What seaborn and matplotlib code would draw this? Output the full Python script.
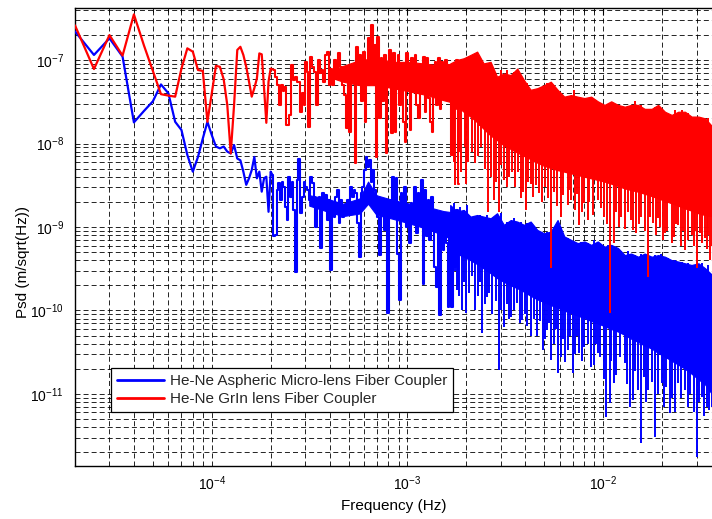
import numpy as np
import pandas as pd
import matplotlib
matplotlib.use("Agg")
import matplotlib.pyplot as plt
import seaborn as sns
from matplotlib.ticker import FixedLocator, NullFormatter, LogFormatterSciNotation

# ---------------- data ----------------
# low-frequency bins, resolvable one by one (Hz)
low_freq = [2.0e-5, 2.5e-5, 3.0e-5, 3.5e-5, 4.0e-5, 4.5e-5, 5.0e-5, 5.5e-5, 6.0e-5, 6.5e-5,
            7.0e-5, 7.5e-5, 8.0e-5, 8.5e-5, 9.0e-5, 9.5e-5, 1.0e-4, 1.05e-4, 1.1e-4, 1.15e-4,
            1.2e-4, 1.25e-4, 1.3e-4, 1.35e-4, 1.4e-4, 1.45e-4, 1.5e-4, 1.55e-4, 1.6e-4, 1.65e-4,
            1.7e-4, 1.75e-4, 1.8e-4, 1.85e-4, 1.9e-4, 1.95e-4, 2.0e-4]

blue_low_psd = [2.2e-7, 1.15e-7, 1.82e-7, 1.10e-7, 1.79e-8, 2.45e-8, 3.2e-8, 5.1e-8, 4.0e-8, 1.82e-8,
                1.45e-8, 7.3e-9, 4.6e-9, 6.9e-9, 1.15e-8, 1.82e-8, 1.26e-8, 9.2e-9, 8.75e-9, 9.2e-9,
                8.0e-9, 7.6e-9, 9.6e-9, 6.6e-9, 6.3e-9, 4.6e-9, 3.2e-9, 3.83e-9, 4.8e-9, 6.9e-9,
                3.83e-9, 4.6e-9, 2.65e-9, 3.83e-9, 4.0e-9, 1.52e-9, 4.6e-9]

red_low_psd = [2.6e-7, 7.8e-8, 1.99e-7, 1.13e-7, 3.52e-7, 1.5e-7, 7.4e-8, 3.9e-8, 3.75e-8, 3.64e-8,
               7.9e-8, 1.38e-7, 1.26e-7, 7.6e-8, 7.4e-8, 1.82e-8, 4.0e-8, 8.5e-8, 8.3e-8, 5.9e-8,
               2.9e-8, 7.6e-9, 2.9e-8, 1.32e-7, 1.44e-7, 1.15e-7, 8.3e-8, 5.5e-8, 3.64e-8, 4.6e-8,
               6.0e-8, 1.2e-7, 1.17e-7, 4.6e-8, 1.77e-8, 5.5e-8, 7.9e-8]

# mid range: peaks and troughs of the blue trace
blue_mid_freq = [2.042e-4, 2.083e-4, 2.124e-4, 2.167e-4, 2.210e-4, 2.254e-4, 2.299e-4, 2.345e-4, 2.392e-4, 2.440e-4,
                 2.488e-4, 2.538e-4, 2.588e-4, 2.640e-4, 2.693e-4, 2.746e-4, 2.801e-4, 2.857e-4, 2.914e-4, 2.972e-4,
                 3.032e-4, 3.092e-4, 3.154e-4, 3.217e-4, 3.281e-4, 3.346e-4, 3.413e-4, 3.481e-4, 3.551e-4, 3.621e-4,
                 3.693e-4, 3.767e-4, 3.842e-4, 3.919e-4, 3.997e-4, 4.077e-4, 4.158e-4, 4.241e-4, 4.325e-4, 4.412e-4,
                 4.500e-4, 4.589e-4, 4.681e-4, 4.774e-4, 4.869e-4, 4.966e-4, 5.065e-4, 5.166e-4, 5.269e-4, 5.370e-4,
                 5.479e-4, 5.588e-4, 5.699e-4, 5.813e-4, 5.929e-4, 6.047e-4, 6.166e-4, 6.289e-4, 6.414e-4, 6.542e-4,
                 6.673e-4, 6.805e-4, 6.941e-4, 7.079e-4, 7.220e-4, 7.364e-4, 7.511e-4, 7.660e-4, 7.813e-4, 7.969e-4,
                 8.128e-4, 8.289e-4, 8.455e-4, 8.623e-4, 8.795e-4, 8.970e-4, 9.149e-4, 9.331e-4, 9.517e-4, 9.707e-4,
                 9.900e-4, 1.010e-3, 1.030e-3, 1.050e-3, 1.071e-3, 1.093e-3, 1.114e-3, 1.137e-3, 1.159e-3, 1.183e-3,
                 1.206e-3, 1.230e-3, 1.255e-3, 1.279e-3, 1.305e-3, 1.331e-3, 1.358e-3, 1.385e-3, 1.412e-3, 1.440e-3,
                 1.469e-3, 1.498e-3, 1.528e-3, 1.559e-3, 1.590e-3, 1.622e-3, 1.654e-3, 1.687e-3, 1.720e-3, 1.754e-3,
                 1.789e-3, 1.825e-3]
blue_mid_psd = [4.2e-9, 7.7e-10, 8.0e-10, 2.77e-9, 3.33e-9, 2.1e-9, 3.5e-9, 3.04e-9, 1.75e-9, 1.21e-9,
                4.0e-9, 2.31e-9, 3.5e-9, 1.6e-9, 2.9e-10, 3.66e-9, 6.6e-9, 1.46e-9, 2.31e-9, 3.5e-9,
                3.04e-9, 2.77e-9, 2.1e-9, 4.0e-9, 3.33e-9, 2.31e-9, 1.01e-9, 2.1e-9, 2.31e-9, 5.6e-10,
                2.53e-9, 1.92e-9, 2.42e-9, 1.21e-9, 2.1e-9, 3.05e-10, 1.92e-9, 1.33e-9, 2.31e-9, 2.77e-9,
                1.11e-9, 2.1e-9, 1.33e-9, 1.6e-9, 1.75e-9, 2.1e-9, 1.75e-9, 3.04e-9, 2.31e-9, 2.77e-9,
                2.53e-9, 1.11e-9, 4.4e-10, 2.53e-9, 3.04e-9, 4.8e-9, 6.95e-9, 5.3e-9, 6.3e-9, 3.5e-9,
                4.8e-9, 2.77e-9, 2.1e-9, 1.33e-9, 4.6e-10, 1.46e-9, 2.1e-9, 9.2e-10, 1.33e-9, 9.2e-11,
                1.46e-9, 2.1e-9, 4.0e-9, 2.1e-9, 3.83e-9, 4.8e-10, 1.34e-10, 2.53e-9, 1.33e-9, 3.04e-9,
                1.01e-9, 1.6e-9, 6.4e-10, 1.92e-9, 1.33e-9, 3.04e-9, 8.4e-10, 2.53e-9, 1.11e-9, 3.66e-9,
                2.1e-10, 2.77e-9, 7.7e-10, 2.1e-9, 7.0e-10, 2.31e-9, 1.01e-9, 3.35e-10, 1.93e-10, 1.11e-9,
                8.8e-11, 8.4e-10, 5.3e-10, 1.33e-9, 6.4e-10, 1.11e-10, 1.11e-9, 1.11e-10, 1.33e-9, 3.35e-10,
                1.6e-9, 2.1e-10]

# mid range: peaks and troughs of the red trace
red_mid_freq = [2.08e-4, 2.12e-4, 2.17e-4, 2.23e-4, 2.28e-4, 2.32e-4, 2.37e-4, 2.44e-4, 2.51e-4, 2.57e-4,
                2.64e-4, 2.69e-4, 2.78e-4, 2.86e-4, 2.91e-4, 2.98e-4, 3.03e-4, 3.09e-4, 3.15e-4, 3.21e-4,
                3.30e-4, 3.39e-4, 3.44e-4, 3.52e-4, 3.59e-4, 3.66e-4, 3.73e-4, 3.81e-4, 3.92e-4, 4.00e-4,
                4.07e-4, 4.16e-4, 4.26e-4, 4.36e-4, 4.46e-4, 4.57e-4, 4.68e-4, 4.78e-4, 4.91e-4, 4.98e-4,
                5.10e-4, 5.22e-4, 5.33e-4, 5.41e-4, 5.52e-4, 5.63e-4, 5.74e-4, 5.86e-4, 5.97e-4, 6.12e-4,
                6.21e-4, 6.34e-4, 6.47e-4, 6.57e-4, 6.70e-4, 6.84e-4, 6.94e-4, 7.08e-4, 7.22e-4, 7.36e-4,
                7.51e-4, 7.66e-4, 7.81e-4, 8.00e-4, 8.16e-4, 8.32e-4, 8.53e-4, 8.65e-4, 8.83e-4, 9.01e-4,
                9.19e-4, 9.40e-4, 9.59e-4, 9.75e-4, 9.94e-4, 1.014e-3, 1.035e-3, 1.056e-3, 1.08e-3, 1.10e-3,
                1.12e-3, 1.15e-3, 1.17e-3, 1.19e-3, 1.22e-3, 1.24e-3, 1.26e-3, 1.29e-3, 1.32e-3, 1.34e-3,
                1.36e-3, 1.39e-3, 1.42e-3, 1.45e-3, 1.48e-3, 1.50e-3, 1.53e-3, 1.57e-3, 1.60e-3, 1.63e-3,
                1.66e-3, 1.69e-3, 1.73e-3, 1.76e-3, 1.80e-3, 1.83e-3]
red_mid_psd = [7.6e-8, 6.3e-8, 5.0e-8, 2.9e-8, 5.0e-8, 4.2e-8, 4.8e-8, 1.67e-8, 2.2e-8, 8.7e-8,
               5.75e-8, 6.3e-8, 5.5e-8, 2.4e-8, 4.0e-8, 2.9e-8, 9.5e-8, 7.2e-8, 1.59e-8, 1.10e-7,
               8.3e-8, 7.2e-8, 2.9e-8, 1.0e-7, 6.9e-8, 7.6e-8, 5.5e-8, 1.15e-7, 1.26e-7, 5.0e-8,
               7.9e-8, 5.0e-8, 1.0e-7, 7.2e-8, 1.2e-7, 8.3e-8, 5.0e-8, 3.8e-8, 1.52e-8, 7.2e-8,
               1.39e-8, 5.5e-8, 8.7e-8, 5.8e-9, 1.44e-7, 5.75e-8, 1.15e-7, 3.2e-8, 1.26e-7, 1.82e-8,
               9.5e-8, 1.82e-7, 7.2e-8, 2.62e-7, 6.6e-8, 1.51e-7, 6.9e-9, 1.90e-7, 2.0e-8, 1.05e-7,
               3.2e-8, 1.15e-7, 7.6e-9, 7.2e-8, 1.32e-7, 1.32e-8, 1.2e-7, 1.39e-8, 7.2e-8, 1.15e-7,
               2.9e-8, 4.6e-8, 1.82e-8, 1.05e-8, 1.2e-7, 6.6e-8, 1.45e-8, 1.05e-7, 6.0e-8, 1.15e-7,
               2.9e-8, 2.0e-8, 7.2e-8, 4.0e-8, 1.10e-7, 2.4e-8, 1.05e-7, 3.5e-8, 1.82e-8, 1.39e-8,
               7.2e-8, 9.5e-8, 2.9e-8, 1.05e-7, 2.6e-8, 9.5e-8, 4.4e-8, 1.0e-7, 6.3e-8, 8.7e-8,
               3.8e-8, 7.3e-9, 7.2e-8, 2.6e-8, 1.0e-7, 3.3e-9]

# mid range: solidly filled part of each trace (top edge, bottom edge)
red_mid_band_freq = [4.2e-4, 4.68e-4, 5.70e-4, 6.94e-4, 8.45e-4, 1.03e-3, 1.255e-3, 1.528e-3, 1.70e-3]
red_mid_band_top = [7.5e-8, 8.5e-8, 1.0e-7, 1.05e-7, 9.5e-8, 9.5e-8, 9.0e-8, 8.5e-8, 8.5e-8]
red_mid_band_core = [6.0e-8, 5.5e-8, 5.0e-8, 5.0e-8, 4.6e-8, 4.2e-8, 3.8e-8, 3.3e-8, 3.1e-8]
blue_mid_band_freq = [3.15e-4, 3.84e-4, 4.68e-4, 5.70e-4, 6.29e-4, 6.94e-4, 8.45e-4, 1.03e-3, 1.255e-3,
                      1.528e-3, 1.70e-3]
blue_mid_band_top = [2.4e-9, 2.2e-9, 1.9e-9, 2.2e-9, 3.5e-9, 2.4e-9, 2.1e-9, 1.9e-9, 1.75e-9, 1.55e-9, 1.5e-9]
blue_mid_band_core = [1.8e-9, 1.55e-9, 1.35e-9, 1.45e-9, 1.9e-9, 1.4e-9, 1.25e-9, 1.1e-9, 9.5e-10, 8.0e-10,
                      7.0e-10]

# high range: dense noise, read as an envelope (top edge, bottom of solid core)
band_freq = [1.654e-3, 1.79e-3, 1.94e-3, 2.10e-3, 2.27e-3, 2.45e-3, 2.66e-3, 2.87e-3, 3.11e-3, 3.37e-3,
             3.64e-3, 3.94e-3, 4.26e-3, 4.61e-3, 4.99e-3, 5.40e-3, 5.85e-3, 6.33e-3, 6.85e-3, 7.41e-3,
             8.02e-3, 8.68e-3, 9.39e-3, 1.016e-2, 1.10e-2, 1.19e-2, 1.29e-2, 1.39e-2, 1.51e-2, 1.63e-2,
             1.77e-2, 1.91e-2, 2.07e-2, 2.24e-2, 2.42e-2, 2.62e-2, 2.83e-2, 3.07e-2, 3.32e-2, 3.68e-2]
red_band_top = [9.1e-8, 1.0e-7, 1.05e-7, 1.15e-7, 1.26e-7, 9.1e-8, 9.5e-8, 6.3e-8, 6.9e-8, 6.6e-8,
                7.9e-8, 5.75e-8, 4.4e-8, 4.6e-8, 5.0e-8, 5.5e-8, 4.4e-8, 3.64e-8, 3.8e-8, 3.64e-8,
                3.5e-8, 3.64e-8, 3.2e-8, 2.9e-8, 3.2e-8, 2.9e-8, 2.76e-8, 2.9e-8, 2.9e-8, 2.6e-8,
                2.6e-8, 2.9e-8, 2.4e-8, 2.2e-8, 2.4e-8, 2.4e-8, 2.1e-8, 2.1e-8, 2.0e-8, 1.52e-8]
red_band_core = [3.2e-8, 2.8e-8, 2.4e-8, 2.1e-8, 1.8e-8, 1.5e-8, 1.25e-8, 1.1e-8, 9.5e-9, 8.6e-9,
                 7.8e-9, 7.1e-9, 6.5e-9, 5.9e-9, 5.4e-9, 5.1e-9, 4.8e-9, 4.6e-9, 4.4e-9, 4.2e-9,
                 4.0e-9, 3.83e-9, 3.66e-9, 3.5e-9, 3.3e-9, 3.1e-9, 2.9e-9, 2.77e-9, 2.65e-9, 2.5e-9,
                 2.35e-9, 2.2e-9, 2.06e-9, 1.92e-9, 1.8e-9, 1.67e-9, 1.57e-9, 1.46e-9, 1.39e-9, 1.33e-9]
blue_band_top = [1.83e-9, 1.53e-9, 1.6e-9, 1.33e-9, 1.39e-9, 1.33e-9, 1.27e-9, 1.46e-9, 1.06e-9, 1.21e-9,
                 1.16e-9, 1.06e-9, 1.16e-9, 9.2e-10, 8.4e-10, 8.8e-10, 1.21e-9, 7.7e-10, 7.0e-10, 6.4e-10,
                 6.7e-10, 6.1e-10, 6.7e-10, 5.8e-10, 6.1e-10, 5.6e-10, 4.6e-10, 4.8e-10, 4.4e-10, 4.8e-10,
                 4.4e-10, 4.6e-10, 4.4e-10, 4.0e-10, 3.85e-10, 3.67e-10, 3.5e-10, 3.67e-10, 3.2e-10, 2.54e-10]
blue_band_core = [5.2e-10, 4.8e-10, 4.4e-10, 4.0e-10, 3.6e-10, 3.2e-10, 2.8e-10, 2.45e-10, 2.2e-10, 2.0e-10,
                  1.85e-10, 1.68e-10, 1.5e-10, 1.36e-10, 1.26e-10, 1.16e-10, 1.08e-10, 1.0e-10, 9.3e-11, 8.7e-11,
                  8.1e-11, 7.5e-11, 7.0e-11, 6.5e-11, 6.0e-11, 5.6e-11, 5.1e-11, 4.6e-11, 4.2e-11, 3.8e-11,
                  3.5e-11, 3.1e-11, 2.8e-11, 2.5e-11, 2.25e-11, 2.0e-11, 1.75e-11, 1.5e-11, 1.3e-11, 9.3e-12]

# upward jags of the top edge in the dense range
peak_freq = [1.72e-3, 1.86e-3, 2.01e-3, 2.18e-3, 2.36e-3, 2.55e-3, 2.76e-3, 2.99e-3, 3.23e-3, 3.50e-3,
             3.79e-3, 4.10e-3, 4.43e-3, 4.80e-3, 5.19e-3, 5.62e-3, 6.08e-3, 6.58e-3, 7.12e-3, 7.70e-3,
             8.34e-3, 9.02e-3, 9.76e-3, 1.057e-2, 1.143e-2, 1.237e-2, 1.339e-2, 1.449e-2, 1.568e-2, 1.697e-2,
             1.836e-2, 1.987e-2, 2.15e-2, 2.33e-2, 2.52e-2, 2.72e-2, 2.95e-2, 3.19e-2, 3.45e-2]
red_peak_psd = [9.5e-8, 9.1e-8, 1.10e-7, 1.05e-7, 9.1e-8, 8.3e-8, 7.2e-8, 7.6e-8, 7.6e-8, 7.2e-8,
                6.3e-8, 5.25e-8, 4.2e-8, 4.8e-8, 5.25e-8, 5.0e-8, 4.0e-8, 3.5e-8, 4.4e-8, 3.2e-8,
                3.32e-8, 3.2e-8, 3.03e-8, 2.9e-8, 2.76e-8, 2.6e-8, 2.6e-8, 3.2e-8, 2.9e-8, 2.52e-8,
                2.76e-8, 2.6e-8, 2.1e-8, 2.52e-8, 2.52e-8, 2.3e-8, 2.0e-8, 2.0e-8, 2.0e-8]
blue_peak_psd = [1.92e-9, 1.75e-9, 1.83e-9, 1.21e-9, 1.39e-9, 1.39e-9, 1.33e-9, 1.46e-9, 1.16e-9, 1.27e-9,
                 1.16e-9, 1.11e-9, 1.01e-9, 8.8e-10, 8.8e-10, 1.01e-9, 9.6e-10, 7.3e-10, 6.7e-10, 6.7e-10,
                 6.4e-10, 7.0e-10, 6.1e-10, 6.1e-10, 5.8e-10, 5.1e-10, 5.1e-10, 4.6e-10, 4.8e-10, 4.8e-10,
                 4.6e-10, 4.8e-10, 4.2e-10, 4.0e-10, 3.85e-10, 3.67e-10, 3.5e-10, 3.67e-10, 3.5e-10]

# downward spikes in the dense range
red_spike_freq = [1.69e-3, 1.72e-3, 1.75e-3, 1.83e-3, 1.87e-3, 1.97e-3, 2.0e-3, 2.05e-3, 2.14e-3, 2.22e-3,
                  2.30e-3, 2.38e-3, 2.49e-3, 2.57e-3, 2.66e-3, 2.76e-3, 2.84e-3, 2.93e-3, 3.02e-3, 3.11e-3,
                  3.22e-3, 3.31e-3, 3.43e-3, 3.55e-3, 3.69e-3, 3.79e-3, 3.90e-3, 4.02e-3, 4.14e-3, 4.26e-3,
                  4.40e-3, 4.55e-3, 4.71e-3, 4.85e-3, 5.05e-3, 5.25e-3, 5.40e-3, 5.62e-3, 5.80e-3, 6.09e-3,
                  6.25e-3, 6.58e-3, 6.70e-3, 6.85e-3, 7.15e-3, 7.35e-3, 7.55e-3, 7.80e-3, 8.02e-3, 8.34e-3,
                  8.50e-3, 8.90e-3, 9.39e-3, 9.70e-3, 1.016e-2, 1.05e-2, 1.09e-2, 1.14e-2, 1.17e-2, 1.20e-2,
                  1.24e-2, 1.29e-2, 1.34e-2, 1.38e-2, 1.42e-2, 1.47e-2, 1.52e-2, 1.57e-2, 1.63e-2, 1.70e-2,
                  1.74e-2, 1.80e-2, 1.86e-2, 1.91e-2, 1.96e-2, 2.02e-2, 2.07e-2, 2.13e-2, 2.24e-2, 2.30e-2,
                  2.36e-2, 2.42e-2, 2.50e-2, 2.56e-2, 2.62e-2, 2.70e-2, 2.83e-2, 2.90e-2, 2.95e-2, 3.01e-2,
                  3.13e-2, 3.20e-2, 3.32e-2, 3.40e-2, 3.45e-2, 3.52e-2, 3.60e-2]
red_spike_psd = [7.3e-9, 6.0e-9, 3.2e-9, 8.0e-9, 4.5e-9, 9.0e-9, 3.3e-9, 6.0e-9, 8.0e-9, 5.8e-9,
                 7.0e-9, 9.0e-9, 5.0e-9, 1.52e-9, 4.0e-9, 2.1e-9, 3.5e-9, 1.52e-9, 5.5e-9, 3.66e-9,
                 3.0e-9, 4.0e-9, 4.6e-9, 3.0e-9, 4.5e-9, 2.2e-9, 2.6e-9, 1.6e-9, 3.5e-9, 3.3e-9,
                 2.3e-9, 3.2e-9, 2.53e-9, 2.0e-9, 3.0e-9, 2.2e-9, 3.2e-10, 2.6e-9, 1.8e-9, 1.33e-9,
                 2.4e-9, 1.83e-9, 2.8e-9, 2.1e-9, 1.6e-9, 2.5e-9, 1.06e-9, 1.5e-9, 1.92e-9, 1.21e-9,
                 2.0e-9, 1.4e-9, 2.1e-9, 1.7e-9, 1.33e-9, 1.1e-9, 9.2e-11, 6.4e-10, 1.5e-9, 1.0e-9,
                 1.33e-9, 9.5e-10, 1.52e-9, 1.2e-9, 9.2e-10, 8.5e-10, 1.1e-9, 1.33e-9, 9.0e-10, 2.54e-10,
                 1.3e-9, 1.11e-9, 8.0e-10, 1.27e-9, 1.0e-9, 7.0e-10, 8.4e-10, 9.0e-10, 6.4e-10, 7.5e-10,
                 1.1e-9, 1.06e-9, 6.0e-10, 9.0e-10, 5.3e-10, 7.0e-10, 8.0e-10, 6.0e-10, 9.0e-10, 3.2e-10,
                 8.4e-10, 6.5e-10, 7.3e-10, 5.5e-10, 8.0e-10, 4.0e-10, 6.0e-10]
blue_spike_freq = [1.68e-3, 1.707e-3, 1.74e-3, 1.79e-3, 1.84e-3, 1.90e-3, 1.95e-3, 2.0e-3, 2.06e-3, 2.13e-3,
                   2.22e-3, 2.28e-3, 2.35e-3, 2.41e-3, 2.48e-3, 2.55e-3, 2.62e-3, 2.72e-3, 2.82e-3, 2.93e-3,
                   3.02e-3, 3.11e-3, 3.22e-3, 3.30e-3, 3.37e-3, 3.50e-3, 3.64e-3, 3.76e-3, 3.86e-3, 3.98e-3,
                   4.10e-3, 4.26e-3, 4.45e-3, 4.60e-3, 4.78e-3, 4.90e-3, 5.05e-3, 5.19e-3, 5.30e-3, 5.40e-3,
                   5.60e-3, 5.72e-3, 5.85e-3, 6.09e-3, 6.25e-3, 6.40e-3, 6.58e-3, 6.75e-3, 6.98e-3, 7.20e-3,
                   7.35e-3, 7.55e-3, 7.80e-3, 8.02e-3, 8.35e-3, 8.68e-3, 8.95e-3, 9.15e-3, 9.39e-3, 9.65e-3,
                   1.005e-2, 1.036e-2, 1.078e-2, 1.10e-2, 1.14e-2, 1.17e-2, 1.22e-2, 1.29e-2, 1.32e-2, 1.366e-2,
                   1.42e-2, 1.46e-2, 1.50e-2, 1.57e-2, 1.61e-2, 1.66e-2, 1.70e-2, 1.77e-2, 1.84e-2, 1.91e-2,
                   1.99e-2, 2.05e-2, 2.10e-2, 2.19e-2, 2.25e-2, 2.32e-2, 2.42e-2, 2.50e-2, 2.62e-2, 2.70e-2,
                   2.78e-2, 2.90e-2, 3.01e-2, 3.08e-2, 3.19e-2, 3.28e-2, 3.38e-2, 3.48e-2, 3.59e-2]
blue_spike_psd = [2.0e-10, 1.11e-10, 3.0e-10, 1.76e-10, 1.5e-10, 1.01e-10, 2.2e-10, 9.2e-11, 1.6e-10, 2.6e-10,
                  1.01e-10, 1.5e-10, 2.2e-10, 5.3e-11, 1.2e-10, 1.46e-10, 1.6e-10, 9.0e-11, 1.3e-10, 1.94e-11,
                  1.0e-10, 6.4e-11, 1.2e-10, 8.0e-11, 8.4e-11, 1.0e-10, 1.22e-10, 7.0e-11, 7.7e-11, 9.0e-11,
                  6.5e-11, 4.9e-11, 8.0e-11, 5.0e-11, 7.5e-11, 3.4e-11, 4.5e-11, 5.8e-11, 7.0e-11, 2.55e-11,
                  4.0e-11, 6.0e-11, 1.77e-11, 2.8e-11, 4.5e-11, 2.4e-11, 3.4e-11, 5.0e-11, 1.77e-11, 3.0e-11,
                  5.0e-11, 3.07e-11, 2.5e-11, 3.7e-11, 4.0e-11, 2.12e-11, 2.2e-11, 4.0e-11, 3.07e-11, 2.8e-11,
                  1.5e-11, 5.3e-12, 7.7e-12, 2.5e-11, 1.34e-11, 1.7e-11, 2.8e-11, 2.33e-11, 1.3e-11, 7.0e-12,
                  8.5e-12, 1.9e-11, 1.1e-11, 2.56e-12, 1.6e-11, 8.0e-12, 1.12e-11, 1.4e-11, 3.08e-12, 1.0e-11,
                  1.34e-11, 7.0e-12, 1.2e-11, 5.9e-12, 9.0e-12, 6.0e-12, 1.34e-11, 9.0e-12, 1.12e-11, 7.0e-12,
                  1.0e-11, 6.0e-12, 1.78e-12, 8.0e-12, 9.3e-12, 5.5e-12, 7.0e-12, 6.5e-12, 7.0e-12]

# axis ticks shown in the reference
x_major_ticks = [1e-4, 1e-3, 1e-2]
y_major_ticks = [1e-11, 1e-10, 1e-9, 1e-8, 1e-7]

blue_label = "He-Ne Aspheric Micro-lens Fiber Coupler"
red_label = "He-Ne GrIn lens Fiber Coupler"
x_label = "Frequency (Hz)"
y_label = "Psd (m/sqrt(Hz))"

BLUE = "#0000FF"
RED = "#FF0000"
XLIM = (2.0e-5, 3.6e-2)
YLIM = (1.37e-12, 4.2e-7)

# ---------------- style ----------------
sns.set_style("white")
plt.rcParams["font.family"] = ["Liberation Sans", "DejaVu Sans"]
plt.rcParams["mathtext.fontset"] = "custom"
plt.rcParams["mathtext.rm"] = "Liberation Sans"
plt.rcParams["mathtext.it"] = "Liberation Sans:italic"
plt.rcParams["mathtext.bf"] = "Liberation Sans:bold"
plt.rcParams["lines.scale_dashes"] = False
plt.rcParams["axes.edgecolor"] = "black"
plt.rcParams["axes.linewidth"] = 1.0


def pairs(f, v):
    n = min(len(f), len(v))
    return np.asarray(f[:n], float), np.asarray(v[:n], float)


def minor_positions(lo, hi):
    out = []
    for e in range(int(np.floor(np.log10(lo))), int(np.ceil(np.log10(hi))) + 1):
        for m in range(2, 10):
            v = m * 10.0 ** e
            if lo < v < hi:
                out.append(v)
    return out


fig = plt.figure(figsize=(7.12, 5.19), dpi=100)
fig.patch.set_facecolor("white")
ax = fig.add_axes([75 / 712, 53 / 519, 637 / 712, 458 / 519])


def log_interp(xq, xp, yp):
    return 10 ** np.interp(np.log10(xq), np.log10(xp), np.log10(yp))


def draw_series(low_psd, mid_f, mid_v, mb_f, mb_top, mb_core, top, core, pk_v, sp_f, sp_v,
                color, label):
    lf, lv = pairs(low_freq, low_psd)
    mf, mv = pairs(mid_f, mid_v)
    df_low = pd.DataFrame({"f": np.concatenate([lf, mf[:1]]), "psd": np.concatenate([lv, mv[:1]])})
    sns.lineplot(data=df_low, x="f", y="psd", sort=False, estimator=None, color=color,
                 lw=1.6, label=label, ax=ax, zorder=3)
    df_mid = pd.DataFrame({"f": mf, "psd": mv})
    sns.lineplot(data=df_mid, x="f", y="psd", sort=False, estimator=None, color=color,
                 lw=1.5, drawstyle="steps-mid", label="_nolegend_", ax=ax, zorder=3)
    mbf, mbt = pairs(mb_f, mb_top)
    _, mbc = pairs(mb_f, mb_core)
    ax.fill_between(mbf, mbc, mbt, color=color, lw=0.8, zorder=3)
    bf, bt = pairs(band_freq, top)
    _, bc = pairs(band_freq, core)
    ax.fill_between(bf, bc, bt, color=color, lw=0.9, zorder=3)
    pf, pv = pairs(peak_freq, pk_v)
    ax.vlines(pf, log_interp(pf, bf, bc), pv, color=color, lw=1.4, zorder=3)
    sf, sv = pairs(sp_f, sp_v)
    ax.vlines(sf, sv, log_interp(sf, bf, bc) * 1.05, color=color, lw=1.4, zorder=3)


draw_series(blue_low_psd, blue_mid_freq, blue_mid_psd, blue_mid_band_freq, blue_mid_band_top,
            blue_mid_band_core, blue_band_top, blue_band_core, blue_peak_psd,
            blue_spike_freq, blue_spike_psd, BLUE, blue_label)
draw_series(red_low_psd, red_mid_freq, red_mid_psd, red_mid_band_freq, red_mid_band_top,
            red_mid_band_core, red_band_top, red_band_core, red_peak_psd,
            red_spike_freq, red_spike_psd, RED, red_label)

ax.set_xscale("log")
ax.set_yscale("log")
ax.set_xlim(*XLIM)
ax.set_ylim(*YLIM)

ax.xaxis.set_major_locator(FixedLocator(x_major_ticks))
ax.yaxis.set_major_locator(FixedLocator(y_major_ticks))
ax.xaxis.set_minor_locator(FixedLocator(minor_positions(*XLIM)))
ax.yaxis.set_minor_locator(FixedLocator(minor_positions(*YLIM)))
for axis in (ax.xaxis, ax.yaxis):
    axis.set_major_formatter(LogFormatterSciNotation(base=10))
    axis.set_minor_formatter(NullFormatter())

ax.set_axisbelow(True)
ax.grid(True, which="both", color="black", linestyle=(0, (3.6, 2.2)), linewidth=0.6)
ax.tick_params(which="both", direction="in", top=True, right=False, colors="black", labelsize=10)
ax.tick_params(which="major", length=5)
ax.tick_params(which="minor", length=3)
ax.tick_params(axis="x", pad=6)
ax.tick_params(axis="y", pad=8)
ax.spines["right"].set_visible(False)
for s in ("left", "bottom", "top"):
    ax.spines[s].set_color("black")

ax.set_xlabel(x_label, fontsize=11, color="black")
ax.set_ylabel(y_label, fontsize=11, color="black")
ax.xaxis.set_label_coords(0.5, -0.072)
ax.yaxis.set_label_coords(-0.07, 0.445)

leg = ax.legend(loc="upper left", bbox_to_anchor=(0.0565, 0.214), borderaxespad=0,
                frameon=True, fancybox=False, framealpha=1, edgecolor="black",
                fontsize=11, handlelength=3.1, handletextpad=0.35, borderpad=0.4,
                labelspacing=0.25)
leg.get_frame().set_linewidth(0.9)
for line in leg.get_lines():
    line.set_linewidth(2.0)
leg.set_zorder(10)

fig.savefig("out.png", dpi=100, facecolor="white")
